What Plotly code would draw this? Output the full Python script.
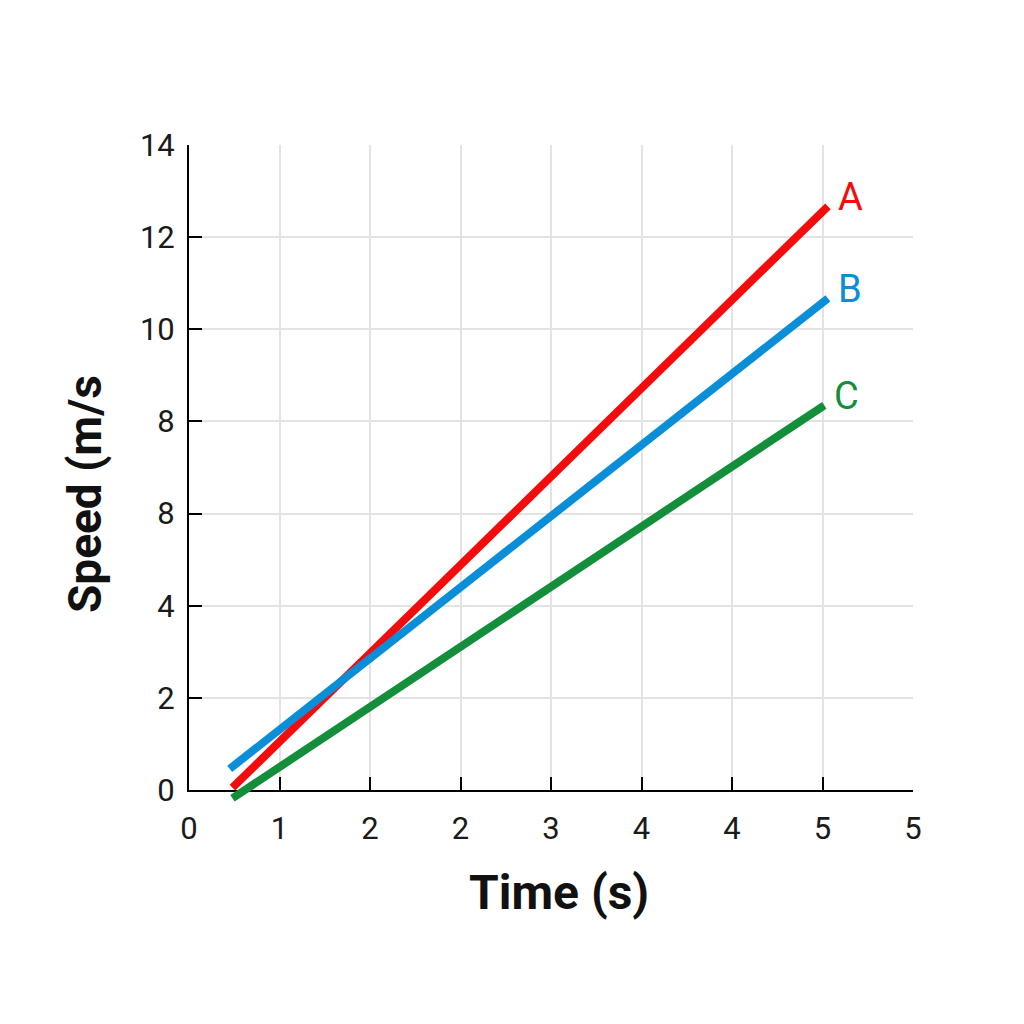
import plotly.graph_objects as go

# x positions are in grid steps (the axis labels are printed as in the source)
x_ticks = [0, 1, 2, 3, 4, 5, 6, 7, 8]
x_labels = ["0", "1", "2", "2", "3", "4", "4", "5", "5"]
y_ticks = [0, 2, 4, 6, 8, 10, 12, 14]
y_labels = ["0", "2", "4", "8", "8", "10", "12", "14"]

series_names = ["A", "B", "C"]
series_x = [[0.48, 7.06], [0.45, 7.06], [0.48, 7.02]]
series_y = [[0.05, 12.67], [0.46, 10.67], [-0.18, 8.35]]
series_colors = ["#f40b0b", "#0a8ed8", "#138f3c"]

# main plot box in pixels, plus a little room below it so line ends are not cut
plot_top, plot_left, plot_right = 137, 181, 119
plot_h = 645
extra = 30
y_max = 14
below = extra * y_max / plot_h
total_h = plot_h + extra

fig = go.Figure()

for name, xs, ys, color in zip(series_names, series_x, series_y, series_colors):
    fig.add_trace(go.Scatter(x=xs, y=ys, mode="lines", xaxis="x2", yaxis="y2",
                             line=dict(color=color, width=8),
                             showlegend=False, hoverinfo="skip"))
    fig.add_annotation(x=xs[-1], y=ys[-1], xref="x2", yref="y2", text=name, showarrow=False,
                       xanchor="left", yanchor="middle", xshift=8, yshift=9,
                       font=dict(color=color, size=38))

# empty trace so the main axes get drawn
fig.add_trace(go.Scatter(x=[None], y=[None], showlegend=False))

axis_style = dict(
    showline=True,
    linecolor="black",
    linewidth=2,
    ticks="inside",
    ticklen=13,
    tickwidth=2,
    tickcolor="black",
    showgrid=True,
    gridcolor="#e3e3e3",
    gridwidth=2,
    zeroline=False,
    tickfont=dict(size=31, color="#1a1a1a"),
)

fig.update_layout(
    xaxis=dict(range=[0, 8], tickvals=x_ticks, ticktext=x_labels,
               ticklabelstandoff=10, **axis_style),
    yaxis=dict(range=[0, y_max], tickvals=y_ticks, ticktext=y_labels,
               domain=[extra / total_h, 1], ticklabelstandoff=6, **axis_style),
    xaxis2=dict(range=[0, 8], overlaying="x", anchor="y2", visible=False),
    yaxis2=dict(range=[-below, y_max], domain=[0, 1], anchor="x2", visible=False),
)

fig.add_annotation(x=0.511, y=-0.108, xref="paper", yref="paper", text="<b>Time (s)</b>",
                   showarrow=False, xanchor="center", yanchor="middle",
                   font=dict(size=48, color="#111111"))
fig.add_annotation(x=-0.1436, y=0.483, xref="paper", yref="paper", text="<b>Speed (m/s</b>",
                   showarrow=False, textangle=-90, xanchor="center", yanchor="middle",
                   font=dict(size=46, color="#111111"))

fig.update_layout(
    width=1024,
    height=1024,
    margin=dict(l=plot_left, r=plot_right, t=plot_top, b=1024 - plot_top - total_h),
    plot_bgcolor="rgba(0,0,0,0)",
    paper_bgcolor="white",
    font=dict(family="Roboto, sans-serif"),
)

fig.write_html("out.html")
